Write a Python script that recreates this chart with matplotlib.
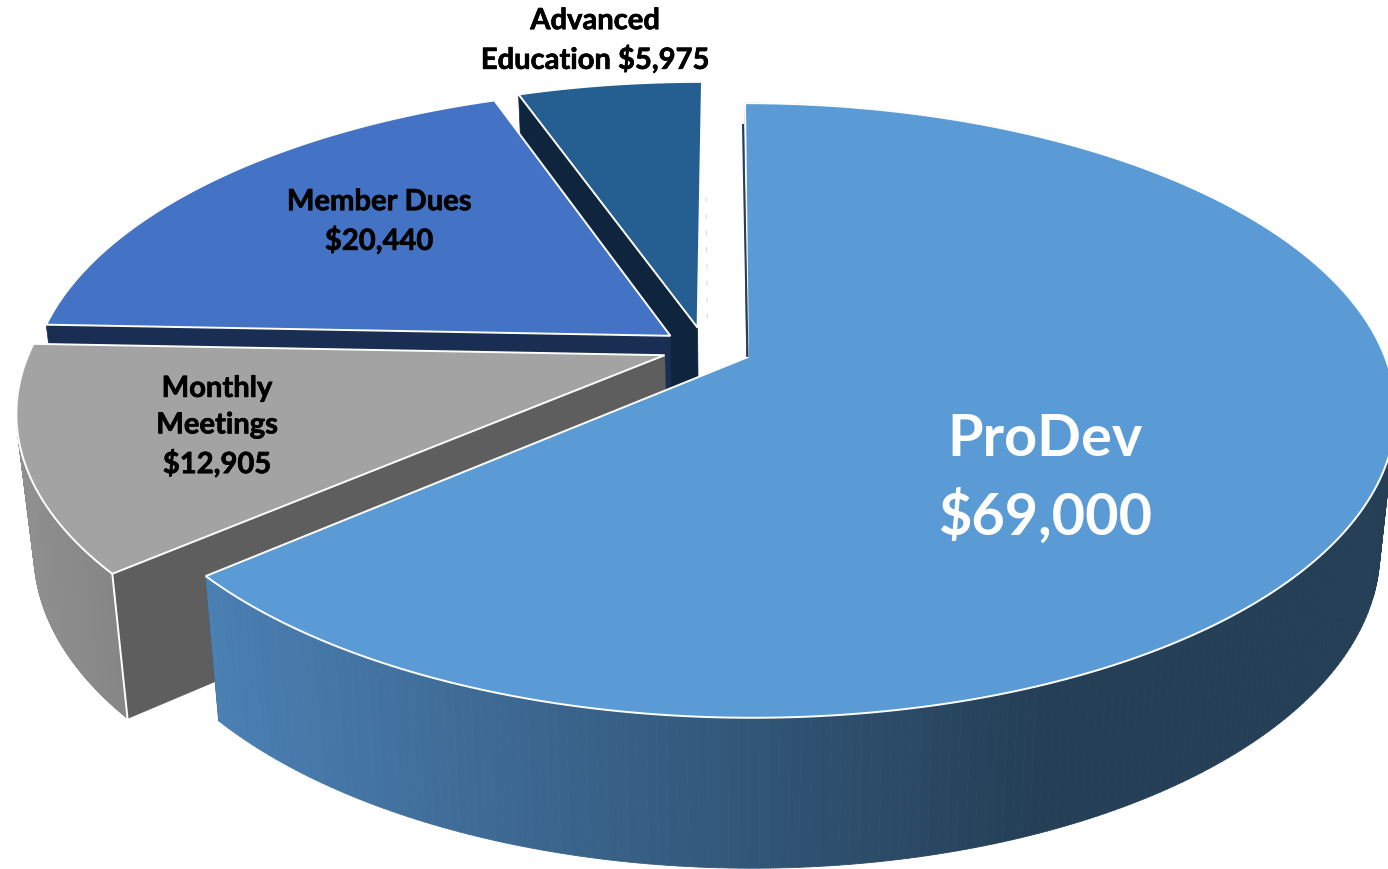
import numpy as np
import matplotlib.pyplot as plt
import matplotlib.patheffects as pe
from matplotlib.collections import PolyCollection
from matplotlib.colors import to_rgb
from matplotlib.patches import Polygon

# data
names = ["ProDev", "Monthly\nMeetings", "Member Dues", "Advanced\nEducation"]
values = [69000, 12905, 20440, 5975]
top_colors = ["#5b9bd5", "#a3a3a3", "#4472c4", "#255e91"]
face_colors = ["#24405a", "#5e5e5e", "#1a2d52", "#0f253d"]
wall_left = ["#4b80b4", "#8f8f8f"]
wall_right = ["#243f56", "#858585"]
explode_x = [0.0, -0.131, -0.123, -0.08]
explode_y = [0.0, 0.006, 0.072, 0.10]

# 透视参数
cx, cy = 748, 357
ax_a, ax_b, k = 637, 298, 0.174
shear = 3.5


def project(X, Y, low=False):
    X, Y = np.asarray(X), np.asarray(Y)
    w = 1 + k * Y
    sx = cx + (ax_a * X - shear * Y) / w
    sy = cy - ax_b * Y / w
    if low:
        sx = cx + (sx - cx) * 0.976
        sy = sy + 136 + 0.04 * (sy - cy)
    return sx, sy


def wedge_xy(a0, a1, dx, dy, low=False):
    t = np.radians(np.linspace(a0, a1, 300))
    X = np.concatenate([[dx], dx + np.sin(t)])
    Y = np.concatenate([[dy], dy + np.cos(t)])
    return np.column_stack(project(X, Y, low))


fig = plt.figure(figsize=(13.88, 8.69), dpi=100)
ax = fig.add_axes([0, 0, 1, 1])
ax.set_xlim(0, 1388)
ax.set_ylim(869, 0)
ax.axis("off")

angles = np.cumsum([0] + values) / sum(values) * 360

# 从后往前画
for i in [3, 2, 1, 0]:
    top = wedge_xy(angles[i], angles[i + 1], explode_x[i], explode_y[i])
    low = wedge_xy(angles[i], angles[i + 1], explode_x[i], explode_y[i], low=True)

    # 切面, 后面两块只露出左边的切面
    for j in [1] if i >= 2 else [1, -1]:
        quad = [top[0], top[j], low[j], low[0]]
        ax.add_patch(Polygon(quad, fc=face_colors[i], ec=face_colors[i], lw=0.5, zorder=i * -10 + 1))

    # 外侧面, 按x做渐变
    if i < 2:
        c0, c1 = np.array(to_rgb(wall_left[i])), np.array(to_rgb(wall_right[i]))
        quads, cols = [], []
        for p in range(1, len(top) - 1):
            quads.append([top[p], top[p + 1], low[p + 1], low[p]])
            if i == 0:
                f = np.interp(top[p][0], [205, 1050], [0, 1])
            else:
                f = np.interp(top[p][0], [20, 120], [0, 1])
            cols.append(c0 + (c1 - c0) * f)
        ax.add_collection(PolyCollection(quads, facecolors=cols, edgecolors=cols, linewidths=0.6, zorder=i * -10 + 2))

    # 顶面
    ax.add_patch(Polygon(top, fc=top_colors[i], ec="white", lw=1.4, joinstyle="miter", zorder=i * -10 + 4))

    # 折角处的白线
    if i == 1:
        ax.plot([top[1][0], low[1][0]], [top[1][1], low[1][1]], color="white", lw=1.4, zorder=i * -10 + 3)

# ProDev切面露出的细条和虚线
ax.plot([743, 747.5], [125, 356], color="#24405a", lw=1.5, zorder=5)
ax.plot([706, 707.5], [197, 322], color="#dddddd", lw=0.8, ls=(0, (5, 10)), zorder=-50)

# 标签
font = ["Lato", "DejaVu Sans"]
bold = [pe.withStroke(linewidth=0.5, foreground="black")]
ax.text(1045, 479, f"{names[0]}\n${values[0]:,}", color="white", fontsize=41.5, fontweight="bold",
        ha="center", va="center", family=font, linespacing=1.47, zorder=10)
ax.text(217, 427, f"{names[1]}\n${values[1]:,}", color="black", fontsize=21, fontweight="bold",
        ha="center", va="center", family=font, linespacing=1.5, zorder=10, path_effects=bold)
ax.text(379, 222, f"{names[2]}\n${values[2]:,}", color="black", fontsize=21, fontweight="bold",
        ha="center", va="center", family=font, linespacing=1.5, zorder=10, path_effects=bold)
ax.text(595, 41, f"{names[3]} ${values[3]:,}", color="black", fontsize=21, fontweight="bold",
        ha="center", va="center", family=font, linespacing=1.5, zorder=10, path_effects=bold)

plt.savefig("out.png", dpi=100)
